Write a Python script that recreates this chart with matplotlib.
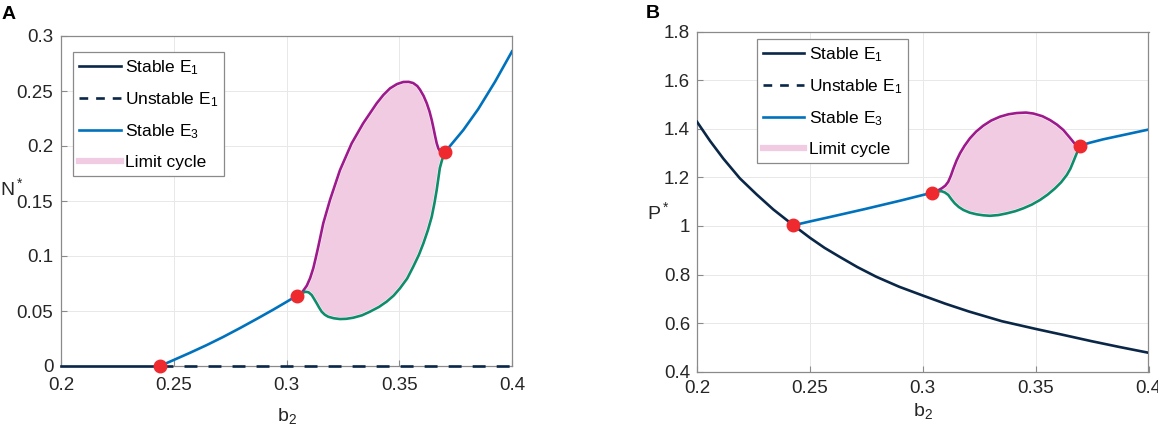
import matplotlib
matplotlib.use('Agg')
import matplotlib.pyplot as plt
from matplotlib.lines import Line2D

plt.rcParams['font.family'] = ['Liberation Sans', 'DejaVu Sans']
plt.rcParams['mathtext.fontset'] = 'custom'
plt.rcParams['mathtext.rm'] = 'Liberation Sans'
plt.rcParams['mathtext.it'] = 'Liberation Sans:italic'

# ---- panel A data (N* vs b2) ----
a_e1_stable_b = [0.2, 0.2439]
a_e1_stable_n = [0.0, 0.0]
a_e1_unstable_b = [0.2439, 0.4]
a_e1_unstable_n = [0.0, 0.0]
a_e3_left_b = [0.2439, 0.2498, 0.2572, 0.2646, 0.2720, 0.2794, 0.2868, 0.2941, 0.3001, 0.3046]
a_e3_left_n = [0.0, 0.0053, 0.0120, 0.0190, 0.0265, 0.0345, 0.0428, 0.0512, 0.0584, 0.0639]
a_e3_right_b = [0.3704, 0.3784, 0.3850, 0.3925, 0.4]
a_e3_right_n = [0.1948, 0.2145, 0.2335, 0.2585, 0.2860]
a_lc_max_b = [0.3046, 0.3070, 0.3090, 0.3105, 0.3119, 0.3130, 0.3141, 0.3163, 0.3193, 0.3237,
              0.3289, 0.3340, 0.3400, 0.3430, 0.3459, 0.3490, 0.3518, 0.3542, 0.3562, 0.3580,
              0.3592, 0.3608, 0.3622, 0.3634, 0.3644, 0.3652, 0.3659, 0.3666, 0.3673, 0.3680,
              0.3688, 0.3704]
a_lc_max_n = [0.0639, 0.0672, 0.0730, 0.0800, 0.0890, 0.0985, 0.1085, 0.1297, 0.1510, 0.1780,
              0.2024, 0.2206, 0.2388, 0.2465, 0.2524, 0.2563, 0.2582, 0.2583, 0.2572, 0.2545,
              0.2512, 0.2455, 0.2388, 0.2315, 0.2236, 0.2160, 0.2090, 0.2025, 0.1979, 0.1955,
              0.1945, 0.1948]
a_lc_min_b = [0.3046, 0.3068, 0.3085, 0.3098, 0.3112, 0.3123, 0.3134, 0.3145, 0.3156, 0.3170,
              0.3185, 0.3210, 0.3237, 0.3265, 0.3296, 0.3335, 0.3370, 0.3410, 0.3444, 0.3475,
              0.3503, 0.3535, 0.3562, 0.3587, 0.3607, 0.3627, 0.3644, 0.3656, 0.3666, 0.3673,
              0.3680, 0.3690, 0.3704]
a_lc_min_n = [0.0639, 0.0664, 0.0675, 0.0670, 0.0645, 0.0608, 0.0570, 0.0530, 0.0494, 0.0466,
              0.0448, 0.0434, 0.0427, 0.0429, 0.0439, 0.0461, 0.0494, 0.0537, 0.0585, 0.0640,
              0.0706, 0.0795, 0.0903, 0.1010, 0.1115, 0.1235, 0.1357, 0.1480, 0.1600, 0.1700,
              0.1800, 0.1875, 0.1948]
a_pts_b = [0.2439, 0.3046, 0.3704]
a_pts_n = [0.0, 0.0639, 0.1948]
a_yticks = [0, 0.05, 0.1, 0.15, 0.2, 0.25, 0.3]
a_ylabels = ['0', '0.05', '0.1', '0.15', '0.2', '0.25', '0.3']

# ---- panel B data (P* vs b2) ----
b_e1_b = [0.2, 0.2058, 0.2117, 0.2190, 0.2264, 0.2338, 0.2427, 0.2501, 0.2565, 0.2630, 0.2710,
          0.2794, 0.2895, 0.3002, 0.3100, 0.3204, 0.3350, 0.3501, 0.3620, 0.3746, 0.3870, 0.4]
b_e1_p = [1.429, 1.350, 1.277, 1.196, 1.130, 1.068, 1.003, 0.951, 0.910, 0.874, 0.831,
          0.791, 0.750, 0.713, 0.680, 0.648, 0.608, 0.576, 0.552, 0.526, 0.502, 0.478]
b_e3_left_b = [0.2427, 0.2458, 0.2502, 0.2589, 0.2745, 0.2899, 0.3002, 0.3042]
b_e3_left_p = [1.003, 1.0095, 1.019, 1.037, 1.070, 1.104, 1.128, 1.137]
b_e3_right_b = [0.3698, 0.3741, 0.38, 0.39, 0.4]
b_e3_right_p = [1.331, 1.343, 1.357, 1.377, 1.397]
b_lc_max_b = [0.3042, 0.3065, 0.3084, 0.3100, 0.3113, 0.3125, 0.3136, 0.3150, 0.3165, 0.3185,
              0.3209, 0.3237, 0.3268, 0.3303, 0.3342, 0.3380, 0.3416, 0.3457, 0.3490, 0.3530,
              0.3564, 0.3595, 0.3623, 0.3643, 0.3660, 0.3672, 0.3682, 0.3698]
b_lc_max_p = [1.137, 1.145, 1.155, 1.166, 1.182, 1.208, 1.237, 1.270, 1.299, 1.330,
              1.361, 1.389, 1.413, 1.434, 1.450, 1.460, 1.465, 1.467, 1.463, 1.452,
              1.436, 1.417, 1.395, 1.373, 1.354, 1.340, 1.333, 1.331]
b_lc_min_b = [0.3042, 0.3065, 0.3084, 0.3098, 0.3113, 0.3127, 0.3142, 0.3160, 0.3180, 0.3208,
              0.3239, 0.3268, 0.3298, 0.3335, 0.3372, 0.3410, 0.3446, 0.3483, 0.3519, 0.3553,
              0.3586, 0.3613, 0.3638, 0.3654, 0.3667, 0.3677, 0.3685, 0.3698]
b_lc_min_p = [1.137, 1.143, 1.143, 1.138, 1.128, 1.110, 1.093, 1.078, 1.066, 1.055,
              1.048, 1.044, 1.042, 1.045, 1.052, 1.061, 1.073, 1.088, 1.107, 1.129,
              1.155, 1.180, 1.210, 1.236, 1.265, 1.288, 1.306, 1.331]
b_pts_b = [0.2427, 0.3042, 0.3698]
b_pts_p = [1.003, 1.137, 1.331]
b_yticks = [0.4, 0.6, 0.8, 1.0, 1.2, 1.4, 1.6, 1.8]
b_ylabels = ['0.4', '0.6', '0.8', '1', '1.2', '1.4', '1.6', '1.8']

xticks = [0.2, 0.25, 0.3, 0.35, 0.4]
xlabels = ['0.2', '0.25', '0.3', '0.35', '0.4']

navy = '#0a2748'
blue = '#0072bd'
purple = '#9e1a8c'
green = '#0f8c6c'
pink = '#f0cbe1'
red = '#ee2a2f'
lw = 1.9
dash = (0, (4.9, 4.2))


def style_axes(ax, yticks, ylabels, ylim, xpad, ypad):
    ax.set_xlim(0.2, 0.4)
    ax.set_ylim(*ylim)
    ax.set_xticks(xticks)
    ax.set_xticklabels(xlabels)
    ax.set_yticks(yticks)
    ax.set_yticklabels(ylabels)
    ax.grid(True, color='#e8e8e8', linewidth=0.7)
    ax.set_axisbelow(True)
    for s in ax.spines.values():
        s.set_color('#8a8a8a')
        s.set_linewidth(0.9)
    ax.tick_params(direction='in', length=4, color='#8a8a8a', labelsize=13.5,
                   labelcolor='#262626')
    ax.tick_params(axis='x', pad=xpad)
    ax.tick_params(axis='y', pad=ypad)


def draw_cycle(ax, xb, xv, nb, nv):
    ax.fill(xb + nb[::-1], xv + nv[::-1], facecolor=pink, edgecolor='white', linewidth=2.6, zorder=2)
    ax.plot(xb, xv, color=purple, lw=lw, zorder=3, solid_capstyle='round', solid_joinstyle='round')
    ax.plot(nb, nv, color=green, lw=lw, zorder=3, solid_capstyle='round', solid_joinstyle='round')


legend_handles = [
    Line2D([], [], color=navy, lw=lw),
    Line2D([], [], color=navy, lw=lw, ls=(0, (3.3, 3.0))),
    Line2D([], [], color=blue, lw=lw),
    Line2D([], [], color=pink, lw=4.5),
]
legend_labels = [r'Stable $\mathregular{E_1}$', r'Unstable $\mathregular{E_1}$',
                 r'Stable $\mathregular{E_3}$', 'Limit cycle']

fig = plt.figure(figsize=(11.58, 4.34), dpi=100)
axA = fig.add_axes([61 / 1158, 1 - 366 / 434, 451 / 1158, 330 / 434])
axB = fig.add_axes([697 / 1158, 1 - 371.7 / 434, 451.5 / 1158, 340 / 434])

# panel A
draw_cycle(axA, a_lc_max_b, a_lc_max_n, a_lc_min_b, a_lc_min_n)
axA.plot(a_e1_stable_b, a_e1_stable_n, color=navy, lw=lw, zorder=3, clip_on=False)
axA.plot(a_e1_unstable_b, a_e1_unstable_n, color=navy, lw=lw, ls=dash, zorder=3, clip_on=False)
axA.plot(a_e3_left_b, a_e3_left_n, color=blue, lw=lw, zorder=3, solid_joinstyle='round')
axA.plot(a_e3_right_b, a_e3_right_n, color=blue, lw=lw, zorder=3, solid_joinstyle='round')
axA.plot(a_pts_b, a_pts_n, 'o', color=red, ms=9, zorder=5, clip_on=False)
style_axes(axA, a_yticks, a_ylabels, (0, 0.3), 8, 5.5)

# panel B
draw_cycle(axB, b_lc_max_b, b_lc_max_p, b_lc_min_b, b_lc_min_p)
axB.plot(b_e1_b, b_e1_p, color=navy, lw=lw, zorder=3, solid_joinstyle='round')
axB.plot(b_e3_left_b, b_e3_left_p, color=blue, lw=lw, zorder=3, solid_joinstyle='round')
axB.plot(b_e3_right_b, b_e3_right_p, color=blue, lw=lw, zorder=3, solid_joinstyle='round')
axB.plot(b_pts_b, b_pts_p, 'o', color=red, ms=9, zorder=5)
style_axes(axB, b_yticks, b_ylabels, (0.4, 1.8), 6, 5)

for ax, anchor in ((axA, (0.0266, 0.9515)), (axB, (0.132, 0.9785))):
    leg = ax.legend(legend_handles, legend_labels, loc='upper left', bbox_to_anchor=anchor,
                    borderaxespad=0, fontsize=12.5, handlelength=2.4, handletextpad=0.25,
                    labelspacing=0.78, borderpad=0.35, fancybox=False, framealpha=1)
    leg.get_frame().set_edgecolor('#8a8a8a')
    leg.get_frame().set_linewidth(0.9)

axA.set_xlabel(r'b$_2$', fontsize=14, color='#262626', va='top')
axA.xaxis.set_label_coords(0.5, -0.12)
axA.set_ylabel(r'N$^*$', fontsize=14, color='#262626', rotation=0, ha='center', va='center')
axA.yaxis.set_label_coords(-0.11, 0.54)

axB.set_xlabel(r'b$_2$', fontsize=14, color='#262626', va='top')
axB.xaxis.set_label_coords(0.5, -0.085)
axB.set_ylabel(r'P$^*$', fontsize=14, color='#262626', rotation=0, ha='center', va='center')
axB.yaxis.set_label_coords(-0.086, 0.468)

fig.text(1.5 / 1158, 1 - 19.3 / 434, 'A', fontsize=14, fontweight='bold', va='baseline')
fig.text(646 / 1158, 1 - 18.3 / 434, 'B', fontsize=14, fontweight='bold', va='baseline')

fig.savefig('out.png', dpi=100)
